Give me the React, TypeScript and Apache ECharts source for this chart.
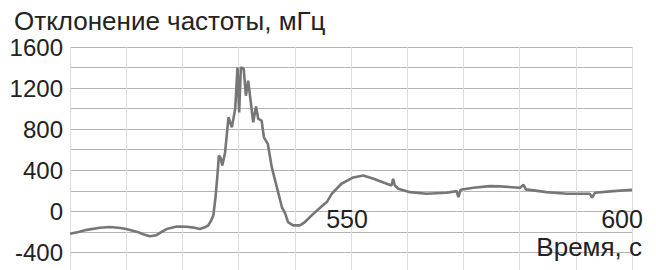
import React, { useEffect, useRef } from "react";
import * as echarts from "echarts";

const time: number[] = [
  500.0, 501.5, 503.0, 505.3, 507.1, 509.0, 510.0, 512.0, 513.0, 514.2, 515.4, 516.3, 517.2, 519.0,
  520.8, 522.0, 523.1, 524.0, 524.6, 525.1, 525.5, 525.9, 526.2, 526.5, 526.8, 527.1, 527.6, 528.2,
  528.8, 529.4, 529.8, 530.1, 530.4, 530.9, 531.3, 531.7, 532.1, 532.6, 533.1, 533.5, 534.1, 534.5,
  535.2, 535.9, 536.8, 537.7, 538.3, 538.8, 539.7, 540.9, 541.8, 543.0, 544.8, 545.7, 546.6, 548.3,
  550.4, 552.2, 554.0, 557.2, 557.5, 557.8, 558.4, 560.5, 563.5, 567.0, 568.8, 569.1, 569.5, 571.8,
  574.7, 576.5, 580.1, 580.7, 581.1, 584.8, 588.4, 592.5, 592.9, 593.4, 596.7, 600.0,
];

const deviation: number[] = [
  -217, -200, -180, -160, -152, -162, -172, -200, -222, -243, -232, -200, -172, -148,
  -150, -158, -172, -155, -136, -90, -40, 139, 330, 544, 520, 447, 576, 916,
  818, 1000, 1400, 964, 1400, 1390, 1126, 1272, 1094, 867, 1022, 900, 883, 721,
  657, 430, 236, 42, -22, -104, -136, -136, -104, -39, 49, 90, 172, 269,
  330, 350, 317, 252, 317, 252, 220, 187, 171, 181, 197, 139, 210, 230,
  246, 243, 230, 259, 214, 187, 171, 171, 133, 181, 197, 210,
];

const shownXLabels: number[] = [550, 600];
const yTitle = "Отклонение частоты, мГц";
const xTitle = "Время, с";

const FONT = "Liberation Sans, Arial, sans-serif";

export default function App() {
  const ref = useRef<HTMLDivElement>(null);
  useEffect(() => {
    if (!ref.current) return;
    const chart = echarts.init(ref.current, undefined, { renderer: "svg" });
    chart.setOption({
      animation: false,
      backgroundColor: "#ffffff",
      textStyle: { fontFamily: FONT },
      title: [
        {
          text: yTitle,
          left: 14,
          top: 8,
          padding: 0,
          textStyle: { fontFamily: FONT, fontSize: 26, lineHeight: 25, fontWeight: "normal", color: "#222" },
        },
        {
          text: xTitle,
          right: 14,
          top: 234,
          padding: 0,
          textStyle: { fontFamily: FONT, fontSize: 26, lineHeight: 25, fontWeight: "normal", color: "#222" },
        },
      ],
      grid: { left: 70, right: 24, top: 47, bottom: 17, containLabel: false, outerBoundsMode: "none" },
      xAxis: {
        type: "value",
        min: 500,
        max: 600,
        interval: 10,
        axisLine: { show: false, onZero: false },
        axisTick: { show: false },
        axisLabel: {
          margin: -64,
          fontFamily: FONT,
          fontSize: 25,
          lineHeight: 19,
          color: "#222",
          formatter: (v: number) => {
            if (v === shownXLabels[0]) return "{a|" + v + "}";
            if (v === shownXLabels[1]) return "{b|" + v + "}";
            return "";
          },
          rich: {
            a: { fontFamily: FONT, fontSize: 25, lineHeight: 19, color: "#222", padding: [0, 8, 0, 0] },
            b: { fontFamily: FONT, fontSize: 25, lineHeight: 19, color: "#222", padding: [0, 20, 0, 0] },
          },
        },
        splitLine: { show: true, lineStyle: { color: "#dcdcdc", width: 1 } },
      },
      yAxis: {
        type: "value",
        min: -600,
        max: 1600,
        interval: 200,
        axisLine: { show: false },
        axisTick: { show: false },
        axisLabel: {
          margin: 7,
          fontFamily: FONT,
          fontSize: 24,
          lineHeight: 20,
          color: "#222",
          formatter: (v: number) => (v % 400 === 0 && v > -600 ? String(v) : ""),
        },
        splitLine: { show: true, lineStyle: { color: "#b5b5b5", width: 1 } },
      },
      series: [
        {
          type: "line",
          data: time.map((t, i) => [t, deviation[i]]),
          showSymbol: false,
          symbol: "none",
          lineStyle: { color: "#767676", width: 2.6 },
          itemStyle: { color: "#767676" },
        },
      ],
    });
    return () => chart.dispose();
  }, []);
  return (
    <div
      ref={ref}
      style={{ position: "fixed", left: 0, top: 0, width: 656, height: 290 }}
    />
  );
}
